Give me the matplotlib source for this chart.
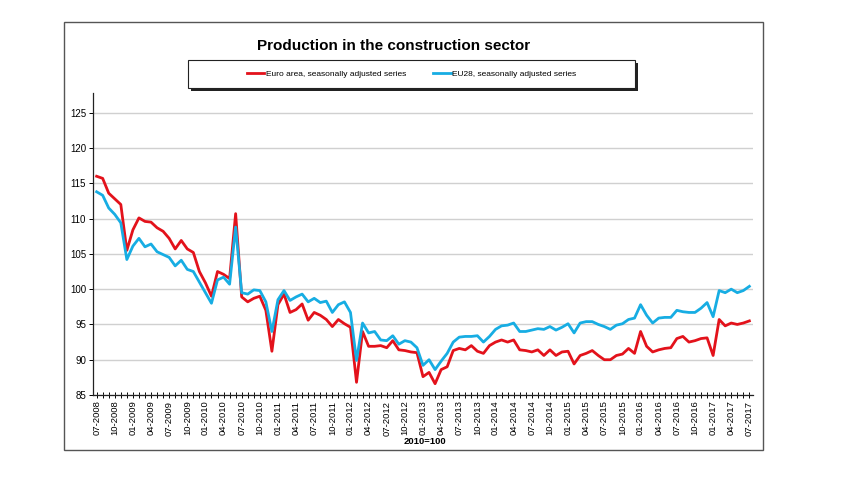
import numpy as np
import matplotlib
matplotlib.use("Agg")
import matplotlib.pyplot as plt
from matplotlib.patches import Rectangle

plt.rcParams['font.family'] = ['Liberation Sans', 'DejaVu Sans']

# monthly index 2010=100, 07-2008 .. 07-2017
euro_area = [116.0, 115.7, 113.6, 112.8, 112.0, 105.5, 108.4, 110.1, 109.6, 109.5,
             108.7, 108.2, 107.2, 105.7, 106.9, 105.7, 105.2, 102.5, 100.9, 99.0,
             102.5, 102.1, 101.5, 110.7, 98.9, 98.2, 98.7, 99.0, 97.0, 91.2,
             97.8, 99.3, 96.7, 97.1, 97.9, 95.6, 96.7, 96.3, 95.7, 94.7,
             95.7, 95.1, 94.6, 86.8, 94.0, 91.9, 91.9, 92.0, 91.7, 92.7,
             91.4, 91.3, 91.1, 91.0, 87.6, 88.2, 86.6, 88.6, 89.0, 91.3,
             91.6, 91.4, 92.0, 91.2, 90.9, 92.0, 92.5, 92.8, 92.5, 92.8,
             91.4, 91.3, 91.1, 91.4, 90.6, 91.4, 90.6, 91.1, 91.2, 89.4,
             90.6, 90.9, 91.3, 90.6, 90.0, 90.0, 90.6, 90.8, 91.6, 90.9,
             94.0, 91.9, 91.1, 91.4, 91.6, 91.7, 93.0, 93.3, 92.5, 92.7,
             93.0, 93.1, 90.6, 95.7, 94.8, 95.2, 95.0, 95.2, 95.5]
eu28 = [113.8, 113.3, 111.5, 110.6, 109.4, 104.2, 106.1, 107.2, 106.0, 106.4,
        105.3, 104.9, 104.5, 103.3, 104.1, 102.8, 102.5, 101.0, 99.5, 98.0,
        101.3, 101.7, 100.7, 108.8, 99.5, 99.3, 99.9, 99.8, 98.2, 94.0,
        98.5, 99.8, 98.4, 98.9, 99.3, 98.2, 98.7, 98.1, 98.3, 96.7,
        97.8, 98.2, 96.7, 89.9, 95.2, 93.8, 94.0, 92.8, 92.7, 93.4,
        92.2, 92.7, 92.5, 91.7, 89.2, 90.0, 88.6, 89.8, 90.9, 92.5,
        93.2, 93.3, 93.3, 93.4, 92.5, 93.3, 94.3, 94.8, 94.9, 95.2,
        94.0, 94.0, 94.2, 94.4, 94.3, 94.7, 94.2, 94.6, 95.1, 93.8,
        95.2, 95.4, 95.4, 95.0, 94.7, 94.3, 94.9, 95.1, 95.7, 95.9,
        97.8, 96.3, 95.2, 95.9, 96.0, 96.0, 97.0, 96.8, 96.7, 96.7,
        97.3, 98.1, 96.1, 99.8, 99.5, 100.0, 99.5, 99.8, 100.4]

months = []
for year in range(2008, 2018):
    for m in range(1, 13):
        months.append("%02d-%d" % (m, year))
months = months[6:6 + len(euro_area)]
x = np.arange(len(months))

W, H = 853, 480
fig = plt.figure(figsize=(W / 100, H / 100), dpi=100)

# outer frame
fig.patches.append(Rectangle((64 / W, 1 - 450 / H), (763 - 64) / W, (450 - 22) / H,
                             transform=fig.transFigure, fill=False,
                             edgecolor='#555555', linewidth=1.0, zorder=-1))

ax = fig.add_axes([93 / W, 1 - 395 / H, (753 - 93) / W, (395 - 93) / H])
l1, = ax.plot(x, euro_area, color='#e3121b', linewidth=2.0,
              label='Euro area, seasonally adjusted series')
l2, = ax.plot(x, eu28, color='#17ade3', linewidth=2.0,
              label='EU28, seasonally adjusted series')

ax.set_xlim(-0.6, 108.6)
ax.set_ylim(85, 127.8)
ax.set_yticks(range(85, 130, 5))
ax.grid(axis='y', color='#d0d0d0', linewidth=1.0)
ax.set_axisbelow(True)
ax.set_xticks(x[::3])
ax.set_xticklabels(months[::3], rotation=90, fontsize=6.8)
ax.set_xticks(x, minor=True)
ax.tick_params(axis='x', which='both', direction='inout', length=4, width=0.7, pad=2)
ax.tick_params(axis='y', direction='out', length=3, width=0.7, labelsize=7, pad=2)
for s in ['top', 'right']:
    ax.spines[s].set_visible(False)
for s in ['left', 'bottom']:
    ax.spines[s].set_linewidth(0.9)
    ax.spines[s].set_color('#222222')

fig.text(394 / W, 1 - 46 / H, 'Production in the construction sector',
         ha='center', va='center', fontsize=11, fontweight='bold')
fig.text(425 / W, 1 - 441 / H, '2010=100', ha='center', va='center',
         fontsize=6.8, fontweight='bold')

# legend box with shadow
lx0, ly0, lx1, ly1 = 188, 60, 635, 88
fig.patches.append(Rectangle(((lx0 + 3) / W, 1 - (ly1 + 3) / H), (lx1 - lx0) / W, (ly1 - ly0) / H,
                             transform=fig.transFigure, facecolor='#222222', edgecolor='none',
                             zorder=-1))
fig.patches.append(Rectangle((lx0 / W, 1 - ly1 / H), (lx1 - lx0) / W, (ly1 - ly0) / H,
                             transform=fig.transFigure, facecolor='white',
                             edgecolor='#222222', linewidth=0.8, zorder=-1))
fig.legend(handles=[l1, l2], loc='center',
           bbox_to_anchor=((lx0 + lx1) / 2 / W, 1 - (ly0 + ly1) / 2 / H),
           bbox_transform=fig.transFigure, ncol=2, frameon=False, fontsize=6,
           handlelength=2.1, handletextpad=0.15, columnspacing=3.3)

fig.savefig('out.png', dpi=100, facecolor='white')
